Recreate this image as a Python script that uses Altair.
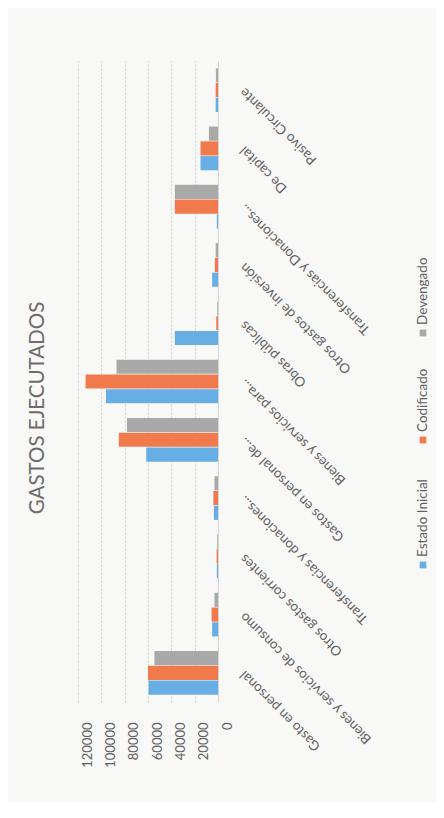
import altair as alt
import pandas as pd

titulo = "GASTOS EJECUTADOS"
categorias = [
    "Gasto en personal",
    "Bienes y servicios de consumo",
    "Otros gastos corrientes",
    "Transferencias y donaciones...",
    "Gastos en personal de...",
    "Bienes y servicios para...",
    "Obras públicas",
    "Otros gastos de inversión",
    "Transferencias y Donaciones...",
    "De capital",
    "Pasivo Circulante",
]
series = ["Estado Inicial", "Codificado", "Devengado"]
estado_inicial = [59500, 5000, 1000, 3500, 61500, 96000, 37000, 5000, 1000, 15000, 2000]
codificado = [60000, 5500, 1200, 4000, 85000, 113500, 1500, 2700, 37000, 15000, 2000]
devengado = [54500, 3000, 700, 3000, 78000, 87000, 600, 2000, 37000, 7800, 1800]
colores = ["#67aee4", "#f07a4c", "#a9a9a9"]
ticks_valor = [0, 20000, 40000, 60000, 80000, 100000, 120000]

rows = []
for serie, valores in zip(series, [estado_inicial, codificado, devengado]):
    for c, v in zip(categorias, valores):
        rows.append({"categoria": c, "serie": serie, "valor": v})
df = pd.DataFrame(rows)

FONT = "Lato"
TXT = "#5f5f5f"

bars = alt.Chart(df).mark_bar().encode(
    x=alt.X(
        "valor:Q",
        scale=alt.Scale(domain=[0, 120000], reverse=True, nice=False),
        axis=alt.Axis(
            orient="bottom", title=None, values=ticks_valor, format="d",
            labelAngle=270, labelAlign="right", labelBaseline="middle",
            labelPadding=20, labelOffset=9, ticks=False, domain=False,
            grid=True, gridDash=[2, 2], gridColor="#cfcfcf",
            labelFont=FONT, labelFontSize=13, labelColor=TXT,
        ),
    ),
    y=alt.Y(
        "categoria:N",
        sort=categorias[::-1],
        scale=alt.Scale(paddingInner=0.25, paddingOuter=0.125),
        axis=alt.Axis(
            orient="right", title=None, labelAngle=225, labelAlign="right",
            labelBaseline="middle", labelPadding=24, ticks=False,
            domain=True, domainColor="#d5d5d5", grid=False,
            labelFont=FONT, labelFontSize=13.5, labelColor=TXT, labelLimit=300,
        ),
    ),
    yOffset=alt.YOffset("serie:N", sort=series[::-1], scale=alt.Scale(paddingInner=0.04)),
    color=alt.Color("serie:N", scale=alt.Scale(domain=series, range=colores), legend=None),
)

layers = [bars]

# rotated chart title
layers.append(
    alt.Chart(pd.DataFrame({"t": [titulo]})).mark_text(
        angle=270, align="center", baseline="middle", font=FONT,
        fontSize=20.5, color="#6c6c6c"
    ).encode(x=alt.value(-40), y=alt.value(347), text="t:N")
)

# manual rotated legend (positions relative to plot origin)
leg_pos = {"Estado Inicial": 504, "Codificado": 379, "Devengado": 272}
for s, col in zip(series, colores):
    d = pd.DataFrame({"serie": [s]})
    layers.append(
        alt.Chart(d).mark_square(size=45, color=col, opacity=1).encode(
            x=alt.value(345), y=alt.value(leg_pos[s])
        )
    )
    layers.append(
        alt.Chart(d).mark_text(
            angle=270, align="left", baseline="middle", font=FONT,
            fontSize=13.5, color=TXT
        ).encode(x=alt.value(345), y=alt.value(leg_pos[s] - 8), text="serie:N")
    )

chart = alt.layer(*layers).properties(
    width=140,
    height=641,
    padding={"left": 70, "top": 53, "right": 218, "bottom": 100},
    autosize=alt.AutoSizeParams(type="none"),
    background="#f8f8f7",
).configure_view(stroke=None)

chart.save("out.html", embed_options={"renderer": "svg", "actions": False})
